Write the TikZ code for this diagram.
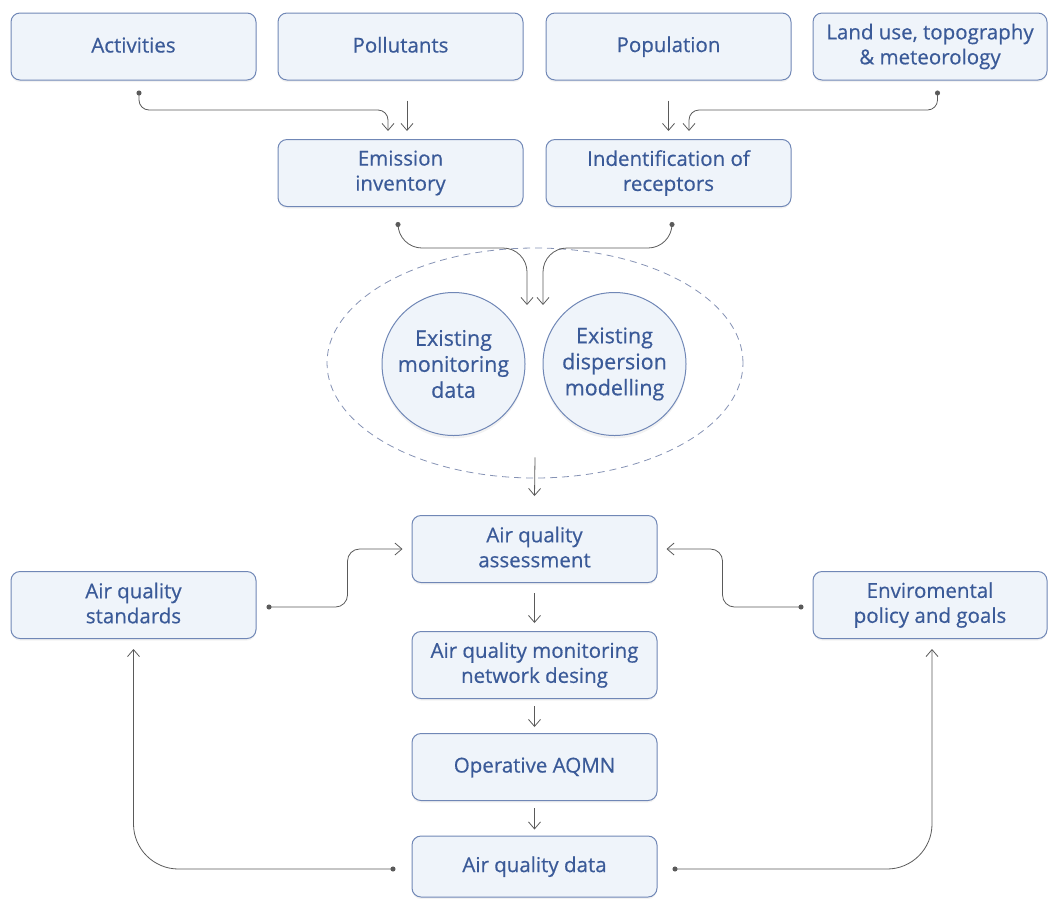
\documentclass[tikz,border=0pt]{standalone}
\usepackage{fontspec}
\setmainfont{Open Sans}
\newfontfamily\lblfont{Open Sans}[FakeBold=0.5]
\usetikzlibrary{arrows.meta,shapes.geometric,shadows}
\definecolor{boxfill}{HTML}{EFF4FA}
\definecolor{boxline}{HTML}{7087B6}
\definecolor{txt}{HTML}{3A5A98}
\definecolor{conn}{HTML}{5A5A5A}
\definecolor{ellline}{HTML}{8592B4}
\newcommand{\lblstrut}{\rule[-4pt]{0pt}{20pt}}
\begin{document}
\begin{tikzpicture}[x=1pt,y=-1pt,
 box/.style={draw=boxline, line width=1pt, fill=boxfill, rounded corners=9pt,
   minimum width=245pt, minimum height=67pt, align=center, text=txt,
   font=\lblfont\fontsize{20.5}{25}\selectfont, inner sep=0pt,
   execute at begin node=\lblstrut, execute at end node=\lblstrut,
   drop shadow={opacity=0.10, shadow xshift=0pt, shadow yshift=-2pt}},
 circ/.style={circle, draw=boxline, line width=1pt, fill=boxfill, minimum size=143pt,
   align=center, text=txt, font=\lblfont\fontsize{21.5}{26}\selectfont, inner sep=0pt,
   drop shadow={opacity=0.10, shadow xshift=0pt, shadow yshift=-3pt}},
 link/.style={draw=conn, line width=0.8pt, -{Straight Barb[length=7pt,width=12pt]}},
 dotlink/.style={link, {Circle[length=5pt]}-{Straight Barb[length=7pt,width=12pt]}},
]
\useasboundingbox (0,0) rectangle (1048,898);

% top row
\node[box] (act)  at (133.5,46.5) {Activities};
\node[box] (pol)  at (400.5,46.5) {Pollutants};
\node[box] (pop)  at (668.5,46.5) {Population};
\node[box, minimum width=234pt] (land) at (930,46.5) {Land use, topography\\\& meteorology};
% second row
\node[box] (emi) at (400.5,173) {Emission\\inventory};
\node[box] (rec) at (668.5,173) {Indentification of\\receptors};

% group ellipse and circles
\node[ellipse, draw=ellline, line width=0.8pt, dash pattern=on 7pt off 5pt,
      minimum width=416pt, minimum height=230pt, inner sep=0pt] (grp) at (535,363) {};
\node[circ] (mon) at (453.5,364) {Existing\\monitoring\\data};
\node[circ] (dis) at (614.5,364) {Existing\\dispersion\\modelling};

% lower part
\node[box] (aqa)  at (534.5,549) {Air quality\\assessment};
\node[box] (std)  at (133.5,605) {Air quality\\standards};
\node[box, minimum width=234pt] (env) at (930,605) {Enviromental\\policy and goals};
\node[box] (net)  at (534.5,665) {Air quality monitoring\\network desing};
\node[box] (op)   at (534.5,767) {Operative AQMN};
\node[box, minimum height=61pt] (data) at (534.5,866.5) {Air quality data};

% free ends above the circles
\coordinate (m1) at (527,305);
\coordinate (m2) at (543,305);

% top connectors
\draw[dotlink, rounded corners=10pt] ([xshift=5.5pt,yshift=-10pt]act.south)
  |- ([xshift=-12.5pt,yshift=29pt]emi.north) -- ([xshift=-12.5pt,yshift=8pt]emi.north);
\draw[link] ([xshift=6.5pt,yshift=-20pt]pol.south) -- ([xshift=6.5pt,yshift=8pt]emi.north);
\draw[link] ([xshift=0pt,yshift=-20pt]pop.south) -- ([xshift=0pt,yshift=8pt]rec.north);
\draw[dotlink, rounded corners=10pt] ([xshift=7.5pt,yshift=-10pt]land.south)
  |- ([xshift=20.5pt,yshift=29pt]rec.north) -- ([xshift=20.5pt,yshift=8pt]rec.north);

% into the group
\draw[dotlink, rounded corners=24pt] ([xshift=-2.5pt,yshift=-15pt]emi.south)
  |- ([yshift=57pt]m1) -- (m1);
\draw[dotlink, rounded corners=24pt] ([xshift=3.5pt,yshift=-15pt]rec.south)
  |- ([yshift=57pt]m2) -- (m2);

% group to assessment
\draw[link] ([yshift=21pt]grp.south) -- ([yshift=19pt]aqa.north);

% main column
\draw[link] ([yshift=-10pt]aqa.south) -- ([yshift=8pt]net.north);
\draw[link] ([yshift=-7pt]net.south) -- ([yshift=6pt]op.north);
\draw[link] ([yshift=-7pt]op.south) -- ([yshift=6pt]data.north);

% side inputs to assessment
\draw[dotlink, rounded corners=12pt] ([xshift=10pt,yshift=-2pt]std.east)
  -| ([xshift=-64pt]aqa.west) -- ([xshift=-9pt]aqa.west);
\draw[dotlink, rounded corners=12pt] ([xshift=-9pt,yshift=-2pt]env.west)
  -| ([xshift=65pt]aqa.east) -- ([xshift=9pt]aqa.east);

% feedback from data
\draw[dotlink, rounded corners=45pt] ([xshift=-16pt,yshift=-2.5pt]data.west)
  -| ([yshift=-10pt]std.south);
\draw[dotlink, rounded corners=45pt] ([xshift=15pt,yshift=-2.5pt]data.east)
  -| ([xshift=2pt,yshift=-10pt]env.south);
\end{tikzpicture}
\end{document}
